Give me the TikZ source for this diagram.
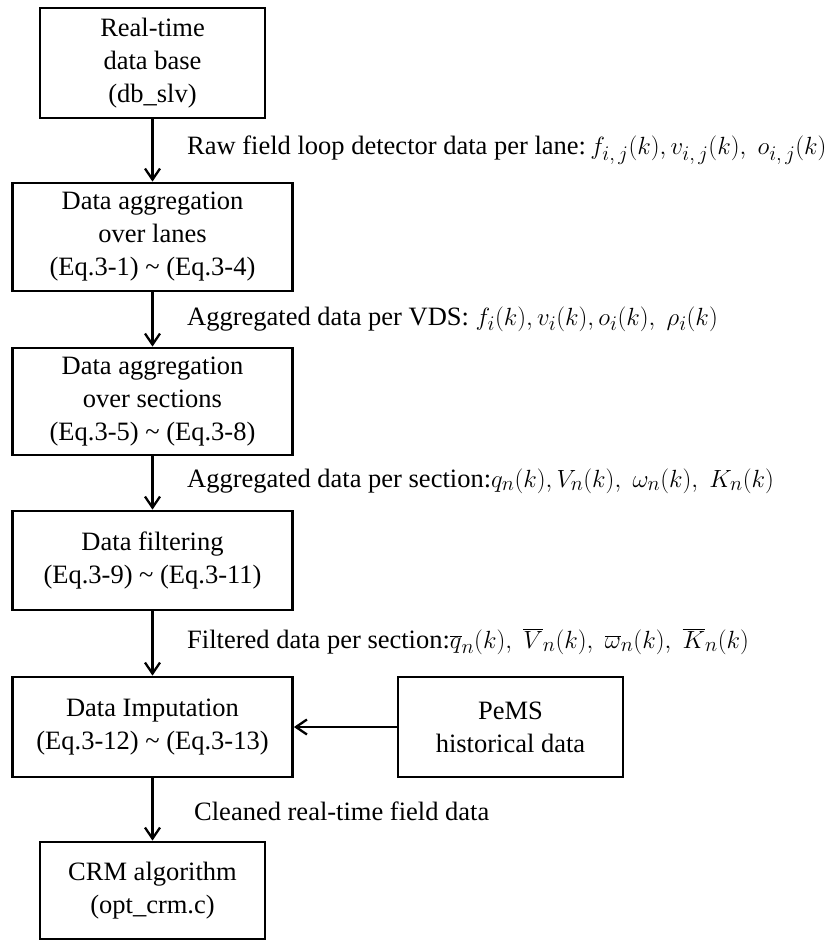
\documentclass[tikz,border=0pt]{standalone}
\usepackage{fontspec}
\setmainfont{Liberation Serif}
\usetikzlibrary{arrows.meta}
\newcommand\mth[1]{{\fontsize{28.5}{30}\selectfont$#1$}}
\begin{document}
\begin{tikzpicture}[x=1pt,y=-1pt,
  procbox/.style={draw, line width=2.8pt, align=center, inner sep=0pt,
    font=\fontsize{26.5}{33}\selectfont},
  flow/.style={line width=2.5pt, -{Straight Barb[length=11pt,width=15pt,line width=2.3pt]}},
  lbl/.style={anchor=base west, inner sep=0pt, font=\fontsize{26.5}{30}\selectfont}]
\useasboundingbox (0,0) rectangle (833,941);
\node[procbox, minimum width=225pt, minimum height=110pt] (b1) at (152.5,63) {Real-time\\data base\\(db\_slv)};
\node[procbox, minimum width=280pt, minimum height=108pt] (b2) at (152.5,237) {Data aggregation\\over lanes\\(Eq.3-1) \char`~{} (Eq.3-4)};
\node[procbox, minimum width=280pt, minimum height=107pt] (b3) at (152.5,401.5) {Data aggregation\\over sections\\(Eq.3-5) \char`~{} (Eq.3-8)};
\node[procbox, minimum width=280pt, minimum height=99pt] (b4) at (152.5,560.5) {Data filtering\\(Eq.3-9) \char`~{} (Eq.3-11)};
\node[procbox, minimum width=280pt, minimum height=100pt] (b5) at (152.5,727) {Data Imputation\\(Eq.3-12) \char`~{} (Eq.3-13)};
\node[procbox, minimum width=225pt, minimum height=100pt] (pems) at (510.5,727) {PeMS\\historical data};
\node[procbox, minimum width=225pt, minimum height=97pt] (b6) at (152.5,890.5) {CRM algorithm\\(opt\_crm.c)};

\draw[flow] (b1) -- (b2);
\draw[flow] (b2) -- (b3);
\draw[flow] (b3) -- (b4);
\draw[flow] (b4) -- (b5);
\draw[flow] (pems) -- (b5);
\draw[flow] (b5) -- (b6);

\node[lbl] (l1) at (187,155) {Raw field loop detector data per lane:\,\mth{f_{i,\,j}(k),v_{i,\,j}(k),\ o_{i,\,j}(k)}};
\node[lbl] (l2) at (187,325) {Aggregated data per VDS: \mth{f_i(k), v_i(k),o_i(k),\ \rho_i(k)}};
\node[lbl] (l3) at (187,487) {Aggregated data per section:\mth{q_n(k),V_n(k),\ \omega_n(k),\ K_n(k)}};
\node[lbl] (l4) at (187,648) {Filtered data per section:\mth{\overline{q}_n(k),\ \overline{V}_n(k),\ \overline{\omega}_n(k),\ \overline{K}_n(k)}};
\node[lbl] (l5) at (194,820) {Cleaned real-time field data};
\end{tikzpicture}
\end{document}
